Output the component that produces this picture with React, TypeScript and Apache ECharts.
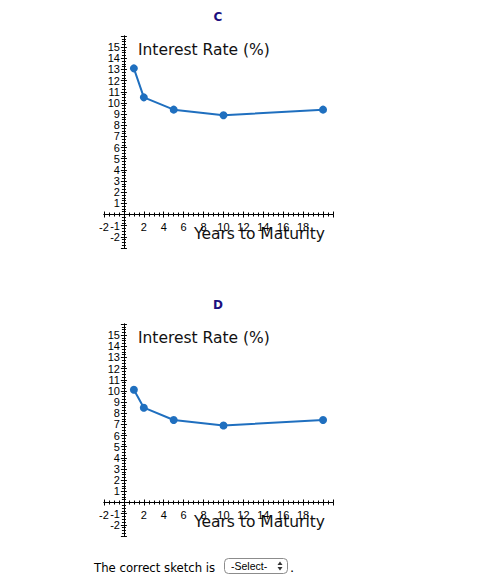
import React, { useEffect, useRef } from "react";
import * as echarts from "echarts";

const maturities = [1, 2, 5, 10, 20];
const ratesC = [13.1, 10.5, 9.4, 8.9, 9.4];
const ratesD = [10.1, 8.5, 7.4, 6.9, 7.4];
const panelTitles = ["C", "D"];
const xRange = { min: -2, max: 21, interval: 2 };
const yRange = { min: -3, max: 16, interval: 1 };
const xAxisName = "Years to Maturity";
const yAxisName = "Interest Rate (%)";
const promptText = "The correct sketch is";
const selectText = "-Select-";

const GRID_W = 229;
const GRID_H = 212;
const LINE = "#1f6fbf";
const TITLE = "#1c0f80";
const DIGITS = "'Liberation Sans Narrow', 'Liberation Sans', sans-serif";
const SANS = "'DejaVu Sans', sans-serif";

const xLabel = (v: number) => (v === 0 || v > 19 ? "" : String(v));
const yLabel = (v: number) => (v === 0 || v >= 16 || v <= -3 ? "" : String(v));

// offsets that bring each axis line onto the other axis' zero
const xZeroFromBottom = ((0 - yRange.min) / (yRange.max - yRange.min)) * GRID_H;
const yZeroFromLeft = ((0 - xRange.min) / (xRange.max - xRange.min)) * GRID_W;

function xAxes(grid: number) {
  const base = {
    type: "value",
    gridIndex: grid,
    min: xRange.min,
    max: xRange.max,
    interval: xRange.interval,
    splitLine: { show: false },
    axisLine: { onZero: false, lineStyle: { color: "#000", width: 1 } },
    axisTick: { show: true, length: 3, lineStyle: { color: "#000", width: 1 } },
    minorTick: { show: true, splitNumber: 4, length: 2, lineStyle: { color: "#000", width: 1 } },
  };
  return [
    {
      ...base,
      position: "bottom",
      offset: -xZeroFromBottom,
      name: xAxisName,
      nameLocation: "end",
      nameGap: -8,
      nameMoveOverlap: false,
      nameTextStyle: {
        fontFamily: SANS,
        fontSize: 15.5,
        color: "#111",
        align: "right",
        verticalAlign: "top",
        padding: [11, 0, 0, 0],
      },
      axisLabel: { show: true, formatter: xLabel, fontFamily: DIGITS, fontSize: 11, color: "#000", margin: 7 },
    },
    { ...base, position: "top", offset: -(GRID_H - xZeroFromBottom), axisLabel: { show: false } },
  ];
}

function yAxes(grid: number) {
  const base = {
    type: "value",
    gridIndex: grid,
    min: yRange.min,
    max: yRange.max,
    interval: yRange.interval,
    splitLine: { show: false },
    axisLine: { onZero: false, lineStyle: { color: "#000", width: 1 } },
    axisTick: { show: true, length: 3, lineStyle: { color: "#000", width: 1 } },
    minorTick: { show: true, splitNumber: 4, length: 2, lineStyle: { color: "#000", width: 1 } },
  };
  return [
    {
      ...base,
      position: "left",
      offset: -yZeroFromLeft,
      name: yAxisName,
      nameLocation: "end",
      nameGap: -14,
      nameMoveOverlap: false,
      nameTextStyle: {
        fontFamily: SANS,
        fontSize: 15.5,
        color: "#111",
        align: "left",
        verticalAlign: "middle",
        padding: [0, 0, 0, 14],
      },
      axisLabel: { show: true, formatter: yLabel, fontFamily: DIGITS, fontSize: 11, color: "#000", margin: 4 },
    },
    { ...base, position: "right", offset: -(GRID_W - yZeroFromLeft), axisLabel: { show: false } },
  ];
}

export default function App() {
  const ref = useRef<HTMLDivElement>(null);
  useEffect(() => {
    if (!ref.current) return;
    const chart = echarts.init(ref.current, undefined, { renderer: "svg" });
    const gridTops = [36, 324];
    const seriesData = [ratesC, ratesD];
    chart.setOption({
      animation: false,
      backgroundColor: "#fff",
      grid: gridTops.map((top) => ({ left: 104, top, width: GRID_W, height: GRID_H, containLabel: false })),
      xAxis: [...xAxes(0), ...xAxes(1)],
      yAxis: [...yAxes(0), ...yAxes(1)],
      series: seriesData.map((rates, i) => ({
        type: "line",
        name: panelTitles[i],
        xAxisIndex: i * 2,
        yAxisIndex: i * 2,
        data: maturities.map((m, k) => [m, rates[k]]),
        symbol: "circle",
        symbolSize: 8,
        itemStyle: { color: LINE },
        lineStyle: { color: LINE, width: 2 },
      })),
      graphic: [
        ...panelTitles.map((t, i) => ({
          type: "text",
          x: 218,
          y: 17 + i * 288,
          style: {
            text: t,
            fontFamily: SANS,
            fontSize: 12,
            fontWeight: "bold",
            fill: TITLE,
            align: "center",
            verticalAlign: "middle",
          },
        })),
        {
          type: "text",
          x: 94,
          y: 567,
          style: {
            text: promptText,
            fontFamily: "'DejaVu Sans Condensed', 'DejaVu Sans', sans-serif",
            fontSize: 13,
            fill: "#000",
            align: "left",
            verticalAlign: "middle",
          },
        },
        {
          type: "rect",
          shape: { x: 224.5, y: 558.5, width: 63, height: 15, r: 4 },
          style: { fill: "#fff", stroke: "#8c8c8c", lineWidth: 1 },
        },
        {
          type: "text",
          x: 231,
          y: 566,
          style: {
            text: selectText,
            fontFamily: "'Liberation Sans', sans-serif",
            fontSize: 10.5,
            fill: "#000",
            align: "left",
            verticalAlign: "middle",
          },
        },
        {
          type: "polygon",
          shape: { points: [[277.5, 565], [282.5, 565], [280, 561.5]] },
          style: { fill: "#333" },
        },
        {
          type: "polygon",
          shape: { points: [[277.5, 567], [282.5, 567], [280, 570.5]] },
          style: { fill: "#333" },
        },
        {
          type: "text",
          x: 290,
          y: 567,
          style: { text: ".", fontFamily: SANS, fontSize: 13, fill: "#000", align: "left", verticalAlign: "middle" },
        },
      ],
    });
    return () => chart.dispose();
  }, []);
  return (
    <div
      ref={ref}
      style={{ position: "absolute", left: 0, top: 0, width: 494, height: 587, background: "#fff" }}
    />
  );
}
